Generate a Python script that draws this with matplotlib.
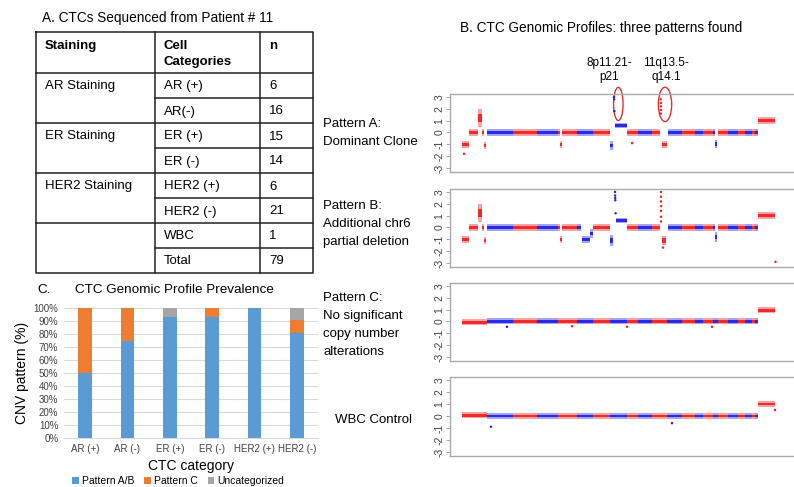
import numpy as np
import matplotlib.pyplot as plt
from matplotlib.patches import Ellipse

plt.rcParams['font.family'] = ['Liberation Sans', 'DejaVu Sans']

W, H = 794, 487

# ---- table A ----
table_groups = ['AR Staining', 'ER Staining', 'HER2 Staining', '']
table_cats = ['AR (+)', 'AR(-)', 'ER (+)', 'ER (-)', 'HER2 (+)', 'HER2 (-)', 'WBC', 'Total']
table_n = [6, 16, 15, 14, 6, 21, 1, 79]

# ---- bar chart C ----
categories = ['AR (+)', 'AR (-)', 'ER (+)', 'ER (-)', 'HER2 (+)', 'HER2 (-)']
pattern_ab = [50, 75, 93.3, 92.9, 100, 81.0]
pattern_c = [50, 25, 0, 7.1, 0, 9.5]
uncategorized = [0, 0, 6.7, 0, 0, 9.5]

# ---- genomic profiles B (genome position units, level = log2 ratio) ----
chrom_edges = [0, 24.7, 51.3, 74.7, 96.3, 114.7, 131.3, 148, 164.7, 176.3, 189.7, 205.2,
               219.7, 233, 241.3, 251.3, 256.3, 266.3, 276.3, 283, 289.7, 293, 296.3, 313]

# (start, end, level, half-spread)
seg_a = [(0, 7, -1.0, 0.3), (7, 16.3, 0, 0.3), (16.3, 20.3, 1.25, 0.75), (20.3, 22.3, 0, 0.3),
         (22.3, 24.3, -1.1, 0.3), (24.7, 98, 0, 0.3), (98, 99.7, -1.0, 0.3), (99.7, 148, 0, 0.3),
         (148, 151, -1.1, 0.35), (152.8, 164.7, 0.6, 0.22), (164.7, 198, 0, 0.3),
         (199.5, 204.7, -1.05, 0.3), (205.7, 253, 0, 0.3), (253, 255, -1.0, 0.35),
         (256.3, 296.3, 0, 0.3), (296.3, 313, 1.0, 0.3)]
pts_a_x = [152.0, 152.2, 152.4, 198.7, 198.9, 199.0, 199.1, 198.8, 2, 170]
pts_a_y = [3.0, 2.8, 1.8, 2.8, 2.5, 2.2, 1.9, 1.6, -1.8, -0.9]

seg_b = [(0, 7, -1.0, 0.3), (7, 16.3, 0, 0.3), (16.3, 20.3, 1.25, 0.75), (20.3, 22.3, 0, 0.3),
         (22.3, 24.3, -1.1, 0.3), (24.7, 98, 0, 0.3), (98, 99.7, -1.0, 0.3), (99.7, 118.5, 0, 0.3),
         (119.5, 128, -1.0, 0.3), (128.3, 130.5, -0.5, 0.35), (131.3, 148, 0, 0.3),
         (148, 150.5, -1.1, 0.5), (153.5, 164.7, 0.6, 0.22), (164.7, 198, 0, 0.3),
         (199.7, 204.2, -1.1, 0.4), (205.7, 252.5, 0, 0.3), (252.5, 254.5, -0.8, 0.45),
         (256.3, 296.3, 0, 0.3), (296.3, 313, 1.0, 0.3)]
pts_b_x = [153.0, 153.1, 153.2, 153.3, 153.6, 199.0, 199.1, 199.0, 199.2, 199.0, 199.1, 199.0, 201.0, 313.5]
pts_b_y = [3.0, 2.7, 2.5, 2.3, 1.2, 3.0, 2.6, 2.2, 1.8, 1.4, 0.9, 0.5, -1.7, -2.9]

seg_c = [(0, 24.7, -0.08, 0.26), (24.7, 296.3, 0.02, 0.26), (296.3, 313, 0.95, 0.26)]
pts_c_x = [45, 110, 165, 250]
pts_c_y = [-0.45, -0.4, -0.45, -0.45]

seg_wbc = [(0, 24.7, 0.05, 0.26), (24.7, 296.3, 0.0, 0.26), (296.3, 313, 1.0, 0.26)]
pts_wbc_x = [29, 210, 313]
pts_wbc_y = [-0.9, -0.6, 0.5]

profile_ticks = [-3, -2, -1, 0, 1, 2, 3]

RED = '#f01c1c'
BLUE = '#1c1ce6'
chrom_colors = [RED if i % 2 == 0 else BLUE for i in range(len(chrom_edges) - 1)]


def point_color(x):
    for i in range(len(chrom_edges) - 1):
        if x < chrom_edges[i + 1]:
            return chrom_colors[i]
    return chrom_colors[-1]


def px_axes(fig, x0, y0, x1, y1):
    return fig.add_axes([x0 / W, 1 - y1 / H, (x1 - x0) / W, (y1 - y0) / H])


def ftext(fig, x, y, s, **kw):
    return fig.text(x / W, 1 - y / H, s, **kw)


def draw_profile(ax, segs, pts_x, pts_y):
    for ci in range(len(chrom_edges) - 1):
        lo, hi = chrom_edges[ci], chrom_edges[ci + 1]
        col = chrom_colors[ci]
        for (s, e, lvl, sp) in segs:
            a, b = max(s, lo), min(e, hi)
            if b <= a:
                continue
            ax.fill_between([a, b], [lvl - sp] * 2, [lvl + sp] * 2, color=col, alpha=0.4,
                            lw=0, zorder=2)
            ax.fill_between([a, b], [lvl - sp * 0.45] * 2, [lvl + sp * 0.45] * 2, color=col,
                            alpha=0.9, lw=0, zorder=3)
    ax.scatter(pts_x, pts_y, s=3, c=[point_color(x) for x in pts_x], lw=0, zorder=4)


fig = plt.figure(figsize=(W / 100, H / 100), dpi=100)

# ---------------- A. table ----------------
bg = fig.add_axes([0, 0, 1, 1])
bg.set_xlim(0, W)
bg.set_ylim(H, 0)
bg.axis('off')

ftext(fig, 42, 18, 'A. CTCs Sequenced from Patient # 11', fontsize=9.8, va='center')
tl, c1, c2, tr = 36, 155, 260, 313
top, head = 32, 73
row_h = 25
lk = dict(color='#222222', lw=1.1)
bottom = head + row_h * len(table_cats)
bg.plot([tl, tr, tr, tl, tl], [top, top, bottom, bottom, top], **lk)
bg.plot([c1, c1], [top, bottom], **lk)
bg.plot([c2, c2], [top, bottom], **lk)
bg.plot([tl, tr], [head, head], **lk)
for i in range(1, len(table_cats)):
    y = head + i * row_h
    x0 = tl if i % 2 == 0 else c1
    bg.plot([x0, tr], [y, y], **lk)

fs_t = 9.5
ftext(fig, 45, 46, 'Staining', fontsize=fs_t, fontweight='bold', va='center')
ftext(fig, 163, 46, 'Cell', fontsize=fs_t, fontweight='bold', va='center')
ftext(fig, 163, 62, 'Categories', fontsize=fs_t, fontweight='bold', va='center')
ftext(fig, 269, 46, 'n', fontsize=fs_t, fontweight='bold', va='center')
for g, name in enumerate(table_groups):
    ftext(fig, 45, head + row_h * 2 * g + row_h / 2 + 1, name, fontsize=fs_t, va='center')
for i, (cat, n) in enumerate(zip(table_cats, table_n)):
    yc = head + row_h * i + row_h / 2 + 1
    ftext(fig, 164, yc, cat, fontsize=fs_t, va='center')
    ftext(fig, 269, yc, str(n), fontsize=fs_t, va='center')

# ---------------- C. bar chart ----------------
ftext(fig, 37, 290, 'C.', fontsize=9.7, va='center')
ftext(fig, 75, 290, 'CTC Genomic Profile Prevalence', fontsize=9.7, va='center')
axc = px_axes(fig, 64, 308, 318, 438)
xs = np.arange(len(categories))
bw = 0.33
axc.bar(xs, pattern_ab, bw, color='#5b9bd5', label='Pattern A/B', zorder=3)
axc.bar(xs, pattern_c, bw, bottom=pattern_ab, color='#ed7d31', label='Pattern C', zorder=3)
axc.bar(xs, uncategorized, bw, bottom=np.add(pattern_ab, pattern_c), color='#a5a5a5',
        label='Uncategorized', zorder=3)
axc.set_xlim(-0.5, len(categories) - 0.5)
axc.set_ylim(0, 100)
axc.set_yticks(range(0, 101, 10))
axc.set_yticklabels([f'{v}%' for v in range(0, 101, 10)])
axc.set_xticks(xs)
axc.set_xticklabels(categories)
axc.tick_params(length=0, labelsize=7, colors='#404040', pad=4)
axc.grid(axis='y', color='#d9d9d9', lw=0.8, zorder=0)
for s in ['top', 'right', 'left']:
    axc.spines[s].set_visible(False)
axc.spines['bottom'].set_color('#d9d9d9')
axc.set_ylabel('CNV pattern (%)', fontsize=10, labelpad=3)
axc.set_xlabel('CTC category', fontsize=10, labelpad=4)
axc.legend(loc='center', bbox_to_anchor=(0.45, -43 / 130), ncol=3,
           frameon=False, fontsize=7.5, handlelength=0.6, handleheight=0.6,
           columnspacing=1.0, handletextpad=0.3, borderaxespad=0)

# ---------------- B. genomic profiles ----------------
ftext(fig, 460, 28, 'B. CTC Genomic Profiles: three patterns found', fontsize=9.8, va='center')

panels = [
    (94, 172, seg_a, pts_a_x, pts_a_y, 'Pattern A:\nDominant Clone', 133, 323),
    (189, 267, seg_b, pts_b_x, pts_b_y, 'Pattern B:\nAdditional chr6\npartial deletion', 224, 323),
    (283, 361, seg_c, pts_c_x, pts_c_y, 'Pattern C:\nNo significant\ncopy number\nalterations', 325, 323),
    (377, 456, seg_wbc, pts_wbc_x, pts_wbc_y, 'WBC Control', 420, 335),
]
prof_axes = []
for (y0, y1, segs, px_, py_, label, ly, lx) in panels:
    ax = px_axes(fig, 450, y0, 794, y1)
    ax.set_xlim(-12, 332)
    ax.set_ylim(-3.34, 3.25)
    draw_profile(ax, segs, px_, py_)
    ax.set_xticks([])
    ax.set_yticks(profile_ticks)
    ax.set_yticklabels([str(t) for t in profile_ticks], rotation=90, va='center')
    ax.tick_params(axis='y', labelsize=7.5, labelcolor='#404040', color='#999999',
                   length=3, pad=1, width=0.6)
    for s in ['top', 'left', 'bottom']:
        ax.spines[s].set_color('#aaaaaa')
        ax.spines[s].set_linewidth(1.0)
    ax.spines['right'].set_visible(False)
    ftext(fig, lx, ly, label, fontsize=9.5, va='center', linespacing=1.65)
    prof_axes.append(ax)

# annotations on pattern A / B
axa = prof_axes[0]
axa.add_patch(Ellipse((156.3, 2.41), 9.5, 2.8, fill=False, ec='#e03030', lw=1.0, clip_on=False))
axa.add_patch(Ellipse((203, 2.37), 13.3, 2.9, fill=False, ec='#e03030', lw=1.0, clip_on=False))
ftext(fig, 609, 70, '8p11.21-\np21', fontsize=8.5, ha='center', va='center', linespacing=1.3)
ftext(fig, 666, 70, '11q13.5-\nq14.1', fontsize=8.5, ha='center', va='center', linespacing=1.3)
bg.arrow(586, 261, 0, -4.5, width=3.5, head_width=7.5, head_length=4.5, color='#ff0000', lw=0)

fig.savefig('out.png', dpi=100)
